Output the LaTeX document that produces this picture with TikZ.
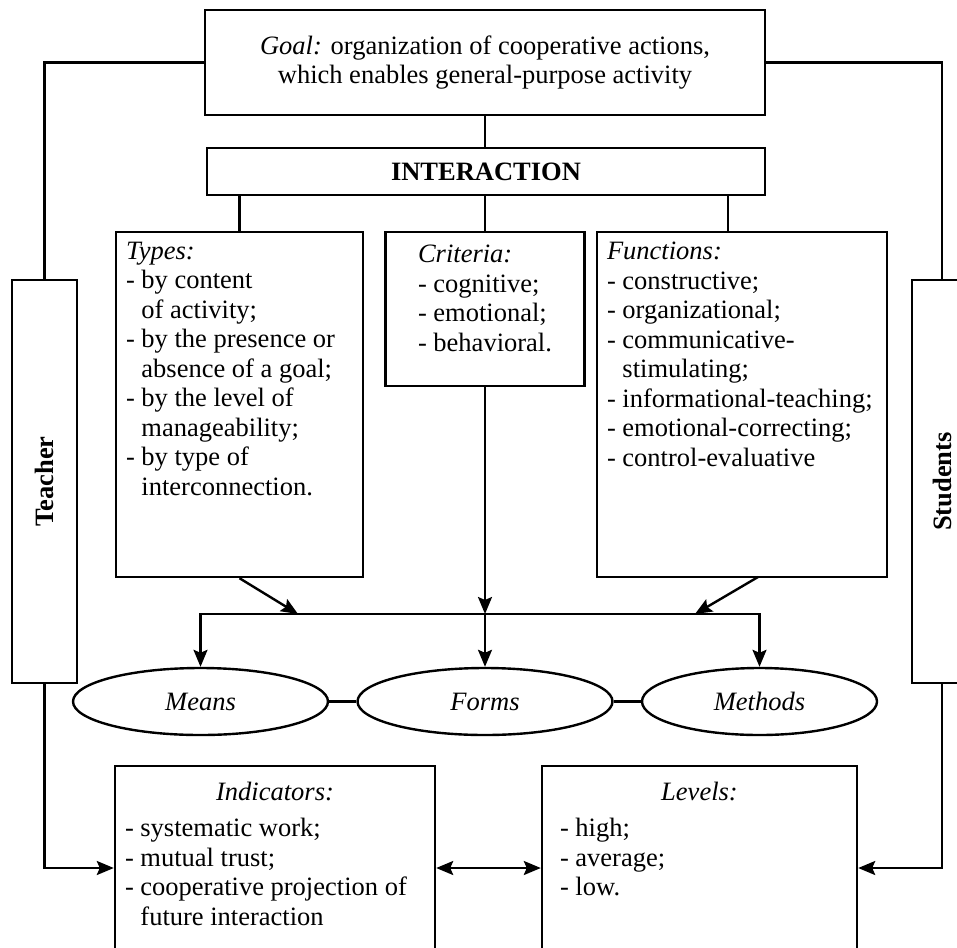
\documentclass[tikz,border=0pt]{standalone}
\usepackage{fontspec}
\setmainfont{Liberation Serif}
\usetikzlibrary{positioning,shapes.geometric,arrows.meta,calc}

\begin{document}
\begin{tikzpicture}[x=1pt,y=-1pt,line width=2.4pt,
	every node/.style={font=\fontsize{26.5}{29.5}\selectfont},
	box/.style={rectangle,draw,inner sep=0pt},
	list/.style={rectangle,draw,inner sep=10pt},
	oval/.style={ellipse,draw,inner sep=0pt,minimum height=67pt},
	arr/.style={-{Stealth[length=17pt,width=14pt,inset=3pt]}},
	darr/.style={{Stealth[length=17pt,width=14pt,inset=3pt]}-{Stealth[length=17pt,width=14pt,inset=3pt]}}]
	\useasboundingbox[fill=white] (0,0) rectangle (957,947);
	% top
	\node [box,minimum width=560pt,minimum height=105pt,align=center] (goal) at (485,62.5)
		{\textit{Goal:} organization of cooperative actions,\\ which enables general-purpose activity};
	\node [box,minimum width=558pt,minimum height=47pt] (interaction) at (486,171.5) {\textbf{INTERACTION}};
	% side boxes
	\node [box,minimum width=65pt,minimum height=403pt] (teacher) at (44.5,481.5) {\rotatebox{90}{\textbf{Teacher}}};
	\node [box,minimum width=60pt,minimum height=403pt] (students) at (942,481.5) {\rotatebox{90}{\textbf{Students}}};
	% three columns
	\node [list] (types) at (239.5,404.5) {\parbox[c][325pt][t]{227pt}{%
		\textit{Types:}\\
		- by content\\
		\hphantom{- }of activity;\\
		- by the presence or\\
		\hphantom{- }absence of a goal;\\
		- by the level of\\
		\hphantom{- }manageability;\\
		- by type of\\
		\hphantom{- }interconnection.}};
	\node [list] (criteria) at (485,309) {\parbox[c][134pt][t]{179pt}{\centering
		\begin{tabular}{@{}l@{}}
		\textit{Criteria:}\\
		- cognitive;\\
		- emotional;\\
		- behavioral.
		\end{tabular}}};
	\node [list] (functions) at (742,404.5) {\parbox[c][325pt][t]{270pt}{%
		\textit{Functions:}\\
		- constructive;\\
		- organizational;\\
		- communicative-\\
		\hphantom{- }stimulating;\\
		- informational-teaching;\\
		- emotional-correcting;\\
		- control-evaluative}};
	% means, forms, methods
	\node [oval,minimum width=255pt] (means) at (200.5,701.5) {\textit{Means}};
	\node [oval,minimum width=255pt] (forms) at (485,701.5) {\textit{Forms}};
	\node [oval,minimum width=235pt] (methods) at (759.5,701.5) {\textit{Methods}};
	% bottom
	\node [list] (indicators) at (275,868) {\parbox[c][184pt][t]{300pt}{%
		\vspace*{6pt}\centering\textit{Indicators:}\par\vspace{7pt}\raggedright
		- systematic work;\\
		- mutual trust;\\
		- cooperative projection of\\
		\hphantom{- }future interaction}};
	\node [list] (levels) at (699.5,868) {\parbox[c][184pt][t]{295pt}{%
		\vspace*{6pt}\centering\textit{Levels:}\par\vspace{7pt}\raggedright
		\hspace*{8pt}- high;\\
		\hspace*{8pt}- average;\\
		\hspace*{8pt}- low.}};
	\coordinate (hub) at (485,614);
	\coordinate (tin) at (298,614);
	\coordinate (fin) at (695,614);
	\coordinate (fout) at (758,577);
	\coordinate (fup) at (728,232);
	% lines
	\draw (goal.south) -- (goal.south |- interaction.north);
	\draw (goal.west) -| (teacher.north);
	\draw (goal.east) -| (students.north);
	\draw (types.north) -- (types.north |- interaction.south);
	\draw (criteria.north) -- (criteria.north |- interaction.south);
	\draw (fup) -- (fup |- interaction.south);
	\draw[arr] (types.south) -- (tin);
	\draw[arr] (fout) -- (fin);
	\draw[arr] (criteria.south) -- (hub);
	\draw (means.north |- hub) -- (methods.north |- hub);
	\draw[arr] (hub) -| (means.north);
	\draw[arr] (hub) -- (forms.north);
	\draw[arr] (hub) -| (methods.north);
	\draw (means.east) -- (forms.west);
	\draw (forms.east) -- (methods.west);
	\draw[arr] (teacher.south) |- (indicators.west);
	\draw[arr] (students.south) |- (levels.east);
	\draw[darr] (indicators.east) -- (levels.west);
\end{tikzpicture}
\end{document}
